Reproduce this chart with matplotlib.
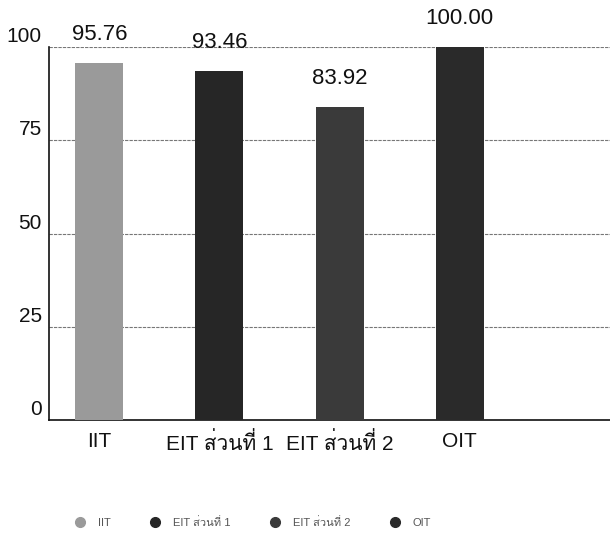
import matplotlib
matplotlib.use("Agg")
import matplotlib.pyplot as plt
from matplotlib import font_manager, ft2font
from matplotlib.transforms import ScaledTranslation
from matplotlib.lines import Line2D

# data
categories = ["IIT", "EIT ส่วนที่ 1", "EIT ส่วนที่ 2", "OIT"]
scores = [95.76, 93.46, 83.92, 100.00]
value_labels = ["95.76", "93.46", "83.92", "100.00"]
y_ticks = [0, 25, 50, 75, 100]
bar_colors = ["#9a9a9a", "#262626", "#3a3a3a", "#2a2a2a"]


def find_font_with(char_code):
    # first installed font that has the glyph (Thai is not in DejaVu)
    for f in font_manager.fontManager.ttflist:
        try:
            if char_code in ft2font.FT2Font(f.fname).get_charmap():
                return f.name
        except Exception:
            pass
    return None


families = ["Liberation Sans"]
thai_font = find_font_with(0x0E2A)
if thai_font:
    families.append(thai_font)
families.append("DejaVu Sans")
plt.rcParams["font.family"] = families

fig = plt.figure(figsize=(6.1, 5.35), dpi=100)
ax = fig.add_axes([0.08, 0.215, 0.92, 0.697])

x = list(range(len(categories)))
bars = ax.bar(x, scores, width=0.4, color=bar_colors, zorder=3)

for xi, val, lab in zip(x, scores, value_labels):
    ax.annotate(lab, xy=(xi, val), xytext=(0, 13), textcoords="offset points",
                ha="center", va="bottom", fontsize=16, color="#111111")

ax.set_xlim(-0.42, 4.25)
ax.set_ylim(0, 100)
ax.set_yticks(y_ticks)
ax.set_yticklabels([str(t) for t in y_ticks], fontsize=15, color="#111111")
ax.set_xticks(x)
ax.set_xticklabels(categories, fontsize=15, color="#111111")
ax.tick_params(axis="both", length=0)
ax.tick_params(axis="x", pad=9)
ax.tick_params(axis="y", pad=5)

# y labels in the scan sit a bit above their gridlines
for lbl in ax.get_yticklabels():
    lbl.set_transform(lbl.get_transform() + ScaledTranslation(0, 9 / 72, fig.dpi_scale_trans))

ax.yaxis.grid(True, color="#777777", linestyle=(0, (3, 1)), linewidth=0.8, zorder=0)
for side in ["top", "right"]:
    ax.spines[side].set_visible(False)
ax.spines["left"].set_color("#111111")
ax.spines["bottom"].set_color("#111111")
ax.spines["left"].set_linewidth(1.2)
ax.spines["bottom"].set_linewidth(1.2)

handles = [Line2D([0], [0], marker="o", linestyle="", markersize=7,
                  markerfacecolor=c, markeredgecolor=c) for c in bar_colors]
fig.legend(handles, categories, loc="center", bbox_to_anchor=(0.41, 0.024), ncol=4,
           frameon=False, fontsize=8, labelcolor="#555555", handletextpad=0.6,
           columnspacing=3.0)

fig.savefig("out.png", dpi=100, facecolor="white")
